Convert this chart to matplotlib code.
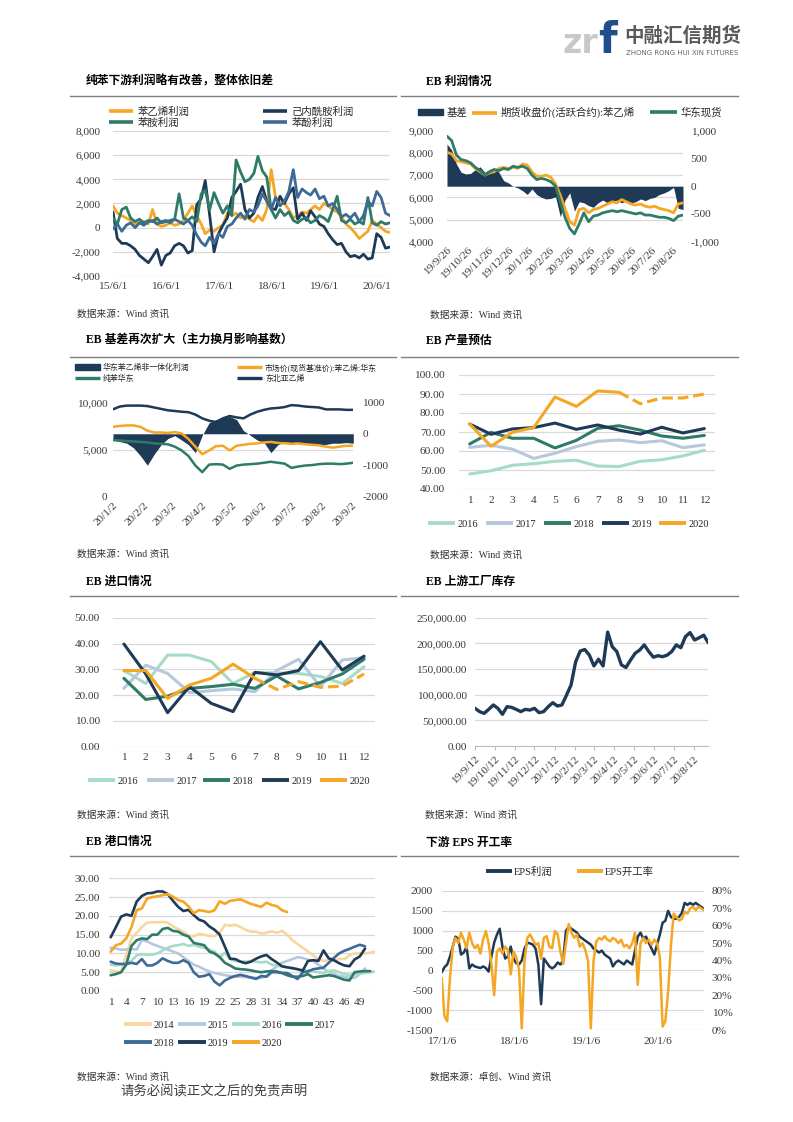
import numpy as np
import pandas as pd
import matplotlib
matplotlib.use('Agg')
import matplotlib.pyplot as plt
import matplotlib.dates as mdates
from matplotlib.lines import Line2D
from matplotlib.patches import Patch
from matplotlib.ticker import FuncFormatter

# ====================== DATA ======================
# Panel 1: 纯苯下游利润 (monthly, from 2015-06)
p1_start = '2015-06-01'
p1_labels = ['苯乙烯利润', '己内酰胺利润', '苯胺利润', '苯酚利润']
p1_sm = [1800, 1200, 1000, 800, 600, 300, 400, 500, 300, 1500,
         300, 100, 200, 400, 200, 300, 600, 1200, 1800, 1000,
         300, -500, -200, -300, 0, 200, 1200, 1000, 1200, 800,
         1000, 700, 500, 1000, 600, 1500, 4800, 2500, 2200, 2000,
         1500, 800, 1000, 1300, 1200, 1500, 1800, 1500, 2000, 1800,
         1500, 1300, 900, 300, 0, -400, -900, -600, -300, 600,
         300, 0, -300, -400]
p1_cpl = [1300, -900, -1300, -1300, -1500, -1800, -2300, -2600, -2900, -2400,
          -1800, -3100, -2300, -2100, -1500, -1300, -1500, -2100, -1900, 1900,
          2400, 3900, 1000, -2000, -500, 200, 800, 2500, 3000, 3600,
          1500, 800, 1200, 2500, 3400, 2200, 1600, 1500, 2600, 2000,
          2800, 3300, 700, 1200, 600, 1400, 900, 300, 100, -500,
          -1000, -1400, -1300, -2000, -2400, -2300, -2500, -2200, -2600, -2500,
          -500, -800, -1700, -1600]
p1_aniline = [800, 300, 1500, 1700, 800, 500, 700, 400, 600, 500,
              800, 400, 500, 600, 700, 2800, 800, 600, 900, 500,
              2800, 3100, 1500, 2900, 2000, 1200, 1800, 1000, 5600, 4600,
              3800, 4000, 4500, 5900, 4700, 4200, 1500, 800, 1500, 1000,
              1300, 600, 400, 700, 800, 400, 600, 1000, 800, 500,
              1500, 2600, 600, 400, 700, 300, 500, 300, 2500, 400,
              200, 500, 300, 400]
p1_phenol = [-100, 300, -300, 200, 400, 0, 400, 200, 500, 600,
             300, 500, 600, 400, 700, 500, 300, 600, 200, -600,
             -1200, -1500, -800, -1300, -500, -800, 100, 300, 800, 1200,
             700, 1500, 1300, 1800, 2800, 2200, 1500, 2500, 1800, 2200,
             3000, 4800, 2500, 3200, 2900, 2700, 3200, 2400, 2600, 1800,
             2000, 1500, 900, 1100, 800, 1200, 500, 1000, 2200, 1800,
             3000, 2500, 1200, 1000]

# Panel 2: EB 利润情况 (weekly, from 2019-09-26)
p2_start = '2019-09-26'
p2_labels = ['基差', '期货收盘价(活跃合约):苯乙烯', '华东现货']
p2_basis = [760, 650, 400, 250, 220, 230, 300, 350, 250, 300,
            330, 250, 100, 60, 0, -30, -80, -150, -50, -150,
            -200, -230, -220, -190, -550, -250, -120, -450, -280, -300,
            -350, -380, -300, -250, -300, -280, -250, -300, -260, -300,
            -280, -230, -260, -220, -200, -150, -120, -80, -20, -400,
            -420]
p2_fut = [8030, 7950, 7650, 7600, 7550, 7500, 7300, 7150, 7000, 7100,
          7150, 7300, 7350, 7300, 7350, 7300, 7500, 7450, 7150, 6950,
          6950, 7000, 6900, 6600, 6100, 5500, 4900, 4750, 5450, 5500,
          5300, 5450, 5500, 5600, 5700, 5800, 5750, 5900, 5800, 5700,
          5650, 5700, 5600, 5550, 5600, 5500, 5450, 5400, 5300, 5700,
          5750]
p2_spot = [8750, 8550, 7900, 7700, 7650, 7550, 7350, 7200, 7000, 7150,
           7250, 7200, 7300, 7250, 7400, 7350, 7400, 7300, 7000, 6800,
           6850, 6800, 6700, 6500, 5800, 5100, 4600, 4350, 4800, 5300,
           4900, 5150, 5200, 5300, 5350, 5400, 5350, 5400, 5350, 5300,
           5250, 5300, 5200, 5200, 5150, 5100, 5100, 5050, 4950, 5150,
           5200]

# Panel 3: EB 基差 (weekly, from 2020-01-02)
p3_start = '2020-01-02'
p3_labels = ['华东苯乙烯非一体化利润', '市场价(现货基准价):苯乙烯:华东', '纯苯华东', '东北亚乙烯']
p3_margin = [-200, -250, -300, -450, -700, -1000, -650, -350, -150, -60,
             -200, -350, -600, -50, 350, 450, 520, 550, 450, 100,
             -50, -200, -280, -600, -350, -260, -280, -320, -300, -330,
             -350, -340, -300, -300, -280, -300]
p3_sm = [7400, 7500, 7550, 7550, 7400, 7000, 6800, 6800, 6750, 6850,
         6700, 6100, 5300, 4500, 4900, 5350, 5400, 4900, 5400, 5500,
         5600, 5650, 5750, 5800, 5700, 5650, 5600, 5650, 5550, 5500,
         5450, 5300, 5200, 5300, 5400, 5400]
p3_bz = [6000, 5950, 5900, 5850, 5800, 5750, 5650, 5600, 5550, 5300,
         4900, 4300, 3300, 2600, 3400, 3450, 3400, 2950, 3300, 3400,
         3450, 3500, 3600, 3700, 3600, 3500, 3050, 3200, 3300, 3350,
         3450, 3500, 3500, 3450, 3500, 3600]
p3_eth = [9260, 9550, 9650, 9650, 9650, 9600, 9450, 9300, 9150, 9080,
          9000, 8950, 8700, 8300, 8050, 7900, 8300, 8550, 8400, 8300,
          8700, 9000, 9200, 9350, 9400, 9500, 9700, 9650, 9550, 9500,
          9450, 9250, 9250, 9250, 9200, 9200]

# Panel 4: EB 产量预估 (months 1-12)
months = list(range(1, 13))
year_labels = ['2016', '2017', '2018', '2019', '2020']
p4_2016 = [47.9, 49.6, 52.5, 53.3, 54.6, 55.1, 52.1, 51.8, 54.6, 55.4, 57.4, 60.4]
p4_2017 = [61.9, 63.0, 61.0, 56.1, 58.8, 62.3, 65.1, 65.8, 64.4, 65.4, 61.8, 63.2]
p4_2018 = [63.7, 69.8, 66.7, 66.7, 61.6, 65.6, 71.9, 73.3, 71.0, 67.9, 66.7, 68.2]
p4_2019 = [74.2, 68.8, 71.6, 72.3, 74.7, 71.4, 73.7, 71.0, 68.9, 72.5, 69.5, 71.8]
p4_2020 = [74.2, 62.5, 69.8, 72.3, 88.4, 83.5, 91.6, 90.9]
p4_2020_fc_months = [8, 9, 10, 11, 12]
p4_2020_fc = [90.9, 84.9, 87.9, 87.9, 90.0]

# Panel 5: EB 进口情况 (months 1-12)
p5_2016 = [29.5, 24.5, 35.5, 35.5, 33.0, 24.5, 28.8, 28.6, 28.4, 27.2, 24.5, 31.0]
p5_2017 = [22.6, 31.6, 28.4, 21.0, 21.7, 22.4, 21.3, 29.5, 33.9, 23.3, 33.6, 34.5]
p5_2018 = [26.5, 18.3, 19.6, 22.6, 23.3, 24.2, 22.6, 27.4, 22.4, 24.9, 28.2, 33.9]
p5_2019 = [39.8, 28.2, 13.2, 23.3, 16.8, 13.6, 28.8, 27.8, 29.5, 40.7, 29.7, 35.1]
p5_2020 = [29.5, 29.5, 18.7, 23.9, 26.5, 32.0, 26.5]
p5_2020_fc_months = [7, 8, 9, 10, 11, 12]
p5_2020_fc = [26.5, 22.2, 25.2, 23.0, 23.5, 28.2]

# Panel 6: EB 上游工厂库存 (weekly, from 2019-09-12)
p6_start = '2019-09-12'
p6_inv = [73400, 67000, 63600, 71400, 80000, 73400, 61700, 76600, 75300, 71400,
          67000, 71400, 70000, 73400, 65000, 67000, 76600, 84400, 78000, 80000,
          99000, 119000, 164000, 185000, 188000, 177000, 156000, 169000, 156000, 222000,
          193500, 184000, 158000, 153000, 167500, 180500, 187000, 197000, 184000, 173000,
          176000, 174000, 177000, 184000, 197000, 191500, 213000, 221000, 206500, 211000,
          216000, 201000]

# Panel 7: EB 港口情况 (week number)
p7_labels = ['2014', '2015', '2016', '2017', '2018', '2019', '2020']
p7_2014 = [5.5, 5.2, 5.0, 9.5, 14.0, 15.5, 17.0, 18.2, 18.3, 18.3,
           18.4, 18.2, 17.2, 16.5, 15.8, 14.8, 14.5, 15.2, 15.0, 14.7,
           14.6, 15.5, 17.6, 17.4, 17.6, 17.0, 16.3, 15.8, 15.8, 15.3,
           15.5, 15.9, 15.5, 16.0, 15.0, 13.5, 12.5, 11.5, 10.5, 9.5,
           8.5, 8.0, 8.2, 8.0, 8.5, 8.5, 9.5, 10.0, 10.0, 10.0,
           10.2, 10.5]
p7_2015 = [11.5, 11.3, 11.0, 11.0, 11.2, 11.0, 13.5, 13.2, 12.5, 12.0,
           11.5, 11.0, 10.5, 10.0, 9.0, 8.0, 7.0, 6.5, 5.8, 5.2,
           4.8, 4.5, 4.2, 4.0, 3.8, 3.8, 3.7, 3.6, 3.5, 3.5,
           4.0, 5.5, 6.5, 7.5, 8.0, 8.5, 9.0, 8.8, 8.3, 8.0,
           7.0, 6.0, 5.0, 4.5, 4.0, 3.8, 3.5, 3.5, 4.5, 6.0]
p7_2016 = [7.0, 6.8, 7.0, 7.2, 8.0, 9.5, 9.8, 9.6, 9.7, 10.0,
           10.8, 11.5, 12.0, 12.2, 12.5, 12.0, 12.3, 11.8, 11.5, 11.0,
           10.5, 9.0, 10.2, 8.5, 8.0, 7.8, 7.8, 8.0, 7.8, 7.6,
           7.8, 7.0, 6.8, 6.5, 6.3, 6.0, 5.8, 5.6, 5.5, 5.2,
           5.0, 4.8, 5.3, 5.5, 5.0, 4.5, 4.3, 4.5, 4.6, 4.8,
           5.0, 5.2]
p7_2017 = [4.2, 4.5, 5.0, 7.0, 12.0, 13.5, 14.0, 13.8, 15.0, 15.0,
           16.5, 16.8, 16.0, 15.8, 15.0, 14.5, 12.8, 12.5, 12.2, 10.5,
           10.0, 9.0, 7.5, 6.8, 6.0, 5.8, 5.7, 5.5, 5.2, 5.0,
           5.2, 5.3, 5.2, 4.8, 4.2, 3.8, 3.8, 4.0, 4.5, 3.6,
           3.8, 4.0, 4.2, 4.0, 3.5, 3.0, 2.8, 5.0, 5.2, 5.3,
           5.3]
p7_2018 = [7.8, 7.3, 7.2, 7.2, 7.5, 7.2, 8.5, 6.8, 6.8, 7.5,
           8.7, 8.0, 7.5, 7.5, 8.2, 7.5, 5.0, 3.8, 4.0, 4.5,
           2.5, 1.5, 2.8, 3.5, 4.0, 4.3, 4.0, 3.6, 3.2, 4.0,
           3.8, 5.0, 5.0, 4.8, 4.8, 4.0, 3.2, 5.0, 5.2, 5.8,
           6.0, 6.2, 7.5, 8.8, 10.0, 10.7, 11.2, 11.8, 12.3, 11.9]
p7_2019 = [14.3, 17.0, 19.8, 20.4, 20.0, 23.8, 25.3, 26.0, 26.1, 26.5,
           26.5, 25.8, 24.0, 22.4, 21.3, 21.6, 20.2, 19.0, 18.5, 17.2,
           16.3, 15.0, 11.8, 8.6, 8.5, 7.8, 7.4, 7.8, 8.6, 9.2,
           9.6, 8.5, 7.6, 6.6, 6.3, 6.1, 5.8, 5.4, 8.0, 8.2,
           8.0, 10.8, 8.7, 8.2, 7.4, 6.8, 6.6, 8.4, 9.2, 11.3]
p7_2020 = [10.5, 12.2, 12.6, 14.0, 17.0, 21.5, 22.0, 24.6, 25.0, 25.2,
           25.5, 25.8, 25.1, 24.2, 23.8, 22.5, 20.7, 21.5, 21.3, 21.0,
           21.5, 23.9, 23.2, 24.0, 24.2, 24.4, 23.8, 23.2, 22.8, 22.4,
           23.5, 22.9, 22.6, 21.5, 21.0]

# Panel 8: 下游EPS开工率 (bi-weekly, from 2017-01-06)
p8_start = '2017-01-06'
p8_labels = ['EPS利润', 'EPS开工率']
p8_profit = [-50, 80, 150, 350, 600, 850, 800, 400, 450, 600,
             50, 150, 100, 80, 60, 100, 60, -30, 350, 700,
             900, 1050, 600, 300, 350, 600, 300, 180, 150, 250,
             550, 700, 680, 650, 550, 150, -850, 300, 200, 100,
             50, 100, 200, 150, 250, 1000, 1100, 1050, 1000, 950,
             850, 800, 750, 700, 650, 550, 500, 450, 500, 400,
             350, 300, 100, 200, 250, 200, 150, 250, 200, 150,
             500, 850, 950, 800, 850, 700, 550, 400, 650, 900,
             1200, 1250, 1500, 1350, 1300, 1300, 1350, 1450, 1700, 1650,
             1700, 1650, 1700, 1650, 1600, 1550]
p8_rate = [30, 8, 5, 30, 48, 53, 50, 56, 52, 47,
           56, 50, 47, 49, 44, 52, 57, 50, 38, 20,
           45, 47, 44, 48, 46, 32, 45, 42, 35, 1,
           40, 53, 55, 52, 49, 50, 41, 53, 54, 48,
           47, 57, 55, 45, 38, 50, 61, 56, 53, 55,
           48, 50, 46, 40, 1, 40, 51, 53, 52, 54,
           52, 51, 53, 52, 50, 52, 48, 49, 47, 50,
           56, 26, 50, 53, 50, 52, 49, 52, 50, 42,
           2, 5, 22, 48, 67, 65, 63, 64, 68, 67,
           70, 71, 69, 71, 70, 69]

# ====================== STYLE ======================
W, H = 793, 1122
plt.rcParams['font.family'] = ['Liberation Serif', 'Noto Sans CJK SC', 'DejaVu Sans']
plt.rcParams['axes.unicode_minus'] = False

ORANGE = '#F5A623'
NAVY = '#1F3A56'
GREEN = '#2E7B68'
STEEL = '#3D6B96'
LTEAL = '#A6DBC8'
LBLUE = '#B5C8DD'
PEACH = '#F9D69E'
GRID = '#D9D9D9'
TXT = '#3A3A3A'
FS = 7.5        # legend font
TFS = 8.2       # tick font

fig = plt.figure(figsize=(W / 100, H / 100), dpi=100)


def rect(x0, y0, x1, y1):
    return [x0 / W, 1 - y1 / H, (x1 - x0) / W, (y1 - y0) / H]


def fx(x):
    return x / W


def fy(y):
    return 1 - y / H


def style(ax, ypad=7, xpad=4.5):
    for s in ax.spines.values():
        s.set_visible(False)
    ax.tick_params(axis='both', length=0, labelsize=TFS, labelcolor=TXT)
    ax.tick_params(axis='y', pad=ypad)
    ax.tick_params(axis='x', pad=xpad)


def date_fmt(x, pos=None):
    d = mdates.num2date(x)
    return f"{d.year % 100}/{d.month}/{d.day}"


def rotate_labels(ax):
    for lbl in ax.get_xticklabels():
        lbl.set_rotation(45)
        lbl.set_ha('right')
        lbl.set_va('top')
        lbl.set_rotation_mode('anchor')


comma = FuncFormatter(lambda v, p: f"{v:,.0f}")
plain = FuncFormatter(lambda v, p: f"{v:.0f}")
two = FuncFormatter(lambda v, p: f"{v:.2f}")


def leg(handle, label, x, y, fs=FS, hl_px=25, pad_px=4, hh=0.7):
    em = fs * 100 / 72
    fig.legend([handle], [label], loc='center left',
               bbox_to_anchor=(fx(x), fy(y)), bbox_transform=fig.transFigure,
               frameon=False, fontsize=fs, handlelength=hl_px / em,
               handletextpad=pad_px / em, borderpad=0, borderaxespad=0,
               handleheight=hh, labelcolor='#262626')


def lh(color, lw=2.6, ls='-'):
    return Line2D([], [], color=color, lw=lw, ls=ls, solid_capstyle='butt')


def title(x, y, s):
    fig.text(fx(x), fy(y), s, fontsize=8.5, fontweight='bold', va='center', ha='left', color='black')


def source(x, y, s='数据来源：Wind 资讯'):
    fig.text(fx(x), fy(y), s, fontsize=7, va='center', ha='left', color='#333333')


def sep(x0, x1, y):
    fig.add_artist(Line2D([fx(x0), fx(x1)], [fy(y), fy(y)], transform=fig.transFigure,
                          color='#7F7F7F', lw=1.0))


LW = dict(solid_capstyle='round', solid_joinstyle='round')

# ====================== HEADER ======================
fig.text(fx(562), fy(53), 'zr', fontsize=24, color='#C8C8C8', family='DejaVu Sans',
         fontweight='bold', va='baseline', ha='left')
fig.text(fx(598), fy(53), 'f', fontsize=31, color='#1F4E8C', family='DejaVu Sans',
         fontweight='bold', va='baseline', ha='left')
fig.text(fx(624), fy(36), '中融汇信期货', fontsize=14, color='#595959', family='Noto Sans CJK SC',
         fontweight='bold', va='center', ha='left')
fig.text(fx(626), fy(53), 'ZHONG RONG HUI XIN FUTURES', fontsize=5, color='#666666',
         family='DejaVu Sans', va='center', ha='left')

for yy in (96, 356.7, 596, 856):
    sep(70, 396, yy)
    sep(401, 738, yy)

# ====================== PANEL 1 ======================
title(86, 81.7, '纯苯下游利润略有改善，整体依旧差')
ax1 = fig.add_axes(rect(113, 131, 390, 276))
style(ax1, ypad=9, xpad=4.5)
ax1.yaxis.grid(True, color=GRID, lw=0.9)
ax1.set_axisbelow(True)
d1 = pd.date_range(p1_start, periods=len(p1_sm), freq='MS')
ax1.plot(d1, p1_sm, color=ORANGE, lw=2.0, **LW)
ax1.plot(d1, p1_cpl, color=NAVY, lw=2.0, **LW)
ax1.plot(d1, p1_aniline, color=GREEN, lw=2.0, **LW)
ax1.plot(d1, p1_phenol, color=STEEL, lw=2.0, **LW)
ax1.set_ylim(-4000, 8000)
ax1.set_yticks(range(-4000, 8001, 2000))
ax1.yaxis.set_major_formatter(comma)
ax1.set_xlim(d1[0], d1[-1])
ax1.set_xticks(pd.date_range(p1_start, periods=6, freq=pd.DateOffset(years=1)))
ax1.xaxis.set_major_formatter(FuncFormatter(date_fmt))
leg(lh(ORANGE), p1_labels[0], 109, 111.7, hl_px=24, pad_px=5)
leg(lh(NAVY), p1_labels[1], 263, 111.7, hl_px=24, pad_px=5)
leg(lh(GREEN), p1_labels[2], 109, 122.7, hl_px=24, pad_px=5)
leg(lh(STEEL), p1_labels[3], 263, 122.7, hl_px=24, pad_px=5)
source(77, 314)

# ====================== PANEL 2 ======================
title(426, 81.7, 'EB 利润情况')
ax2 = fig.add_axes(rect(447, 130.7, 683, 241.7))
ax2r = ax2.twinx()
ax2.set_zorder(ax2r.get_zorder() + 1)
ax2.patch.set_visible(False)
style(ax2, ypad=9.5, xpad=3)
style(ax2r, ypad=5.5)
d2 = pd.date_range(p2_start, periods=len(p2_fut), freq='7D')
l_ylim2 = (4000, 9000)
r_ylim2 = (-1000, 1000)
ax2r.fill_between(d2, p2_basis, 0, color=NAVY, lw=0)
ax2.plot(d2, p2_fut, color=ORANGE, lw=2.0, **LW)
ax2.plot(d2, p2_spot, color=GREEN, lw=2.0, **LW)
ax2.set_ylim(*l_ylim2)
ax2r.set_ylim(*r_ylim2)
lt2 = np.arange(4000, 9001, 1000)
ax2.set_yticks(lt2)
ax2.yaxis.set_major_formatter(comma)
ax2r.set_yticks(np.arange(-1000, 1001, 500))
ax2r.yaxis.set_major_formatter(comma)
ax2r.set_yticks(np.interp(lt2, l_ylim2, r_ylim2), minor=True)
ax2r.tick_params(which='minor', length=0)
ax2r.yaxis.grid(True, which='minor', color=GRID, lw=0.9)
ax2r.set_axisbelow(True)
ax2.set_xlim(d2[0], d2[-1])
ax2.set_xticks(pd.date_range(p2_start, periods=12, freq=pd.DateOffset(months=1)))
ax2.xaxis.set_major_formatter(FuncFormatter(date_fmt))
rotate_labels(ax2)
leg(Patch(color=NAVY), p2_labels[0], 418, 112.7, hl_px=25, pad_px=4, hh=0.5)
leg(lh(ORANGE), p2_labels[1], 472, 112.7, hl_px=25, pad_px=4)
leg(lh(GREEN), p2_labels[2], 650, 112.7, hl_px=27, pad_px=4)
source(430, 315)

# ====================== PANEL 3 ======================
title(86, 340, 'EB 基差再次扩大（主力换月影响基数）')
ax3 = fig.add_axes(rect(113, 402.3, 353.3, 496.7))
ax3r = ax3.twinx()
ax3.set_zorder(ax3r.get_zorder() + 1)
ax3.patch.set_visible(False)
style(ax3, ypad=4, xpad=3)
style(ax3r, ypad=6.5)
d3 = pd.date_range(p3_start, periods=len(p3_sm), freq='7D')
l_ylim3 = (0, 10000)
r_ylim3 = (-2000, 1000)
ax3r.fill_between(d3, p3_margin, 0, color=NAVY, lw=0)
ax3.plot(d3, p3_sm, color=ORANGE, lw=1.8, **LW)
ax3.plot(d3, p3_bz, color=GREEN, lw=1.8, **LW)
ax3.plot(d3, p3_eth, color=NAVY, lw=1.8, **LW)
ax3.set_ylim(*l_ylim3)
ax3r.set_ylim(*r_ylim3)
lt3 = np.array([0, 5000, 10000])
ax3.set_yticks(lt3)
ax3.yaxis.set_major_formatter(comma)
ax3r.set_yticks([-2000, -1000, 0, 1000])
ax3r.yaxis.set_major_formatter(plain)
ax3r.set_yticks(np.interp(lt3, l_ylim3, r_ylim3), minor=True)
ax3r.tick_params(which='minor', length=0)
ax3r.yaxis.grid(True, which='minor', color=GRID, lw=0.9)
ax3r.set_axisbelow(True)
ax3.set_xlim(d3[0], d3[-1])
ax3.set_xticks(pd.date_range(p3_start, periods=9, freq=pd.DateOffset(months=1)))
ax3.xaxis.set_major_formatter(FuncFormatter(date_fmt))
rotate_labels(ax3)
fs3 = 5.7
leg(Patch(color=NAVY), p3_labels[0], 75, 367.7, fs=fs3, hl_px=25, pad_px=3, hh=0.6)
leg(lh(ORANGE, 2.4), p3_labels[1], 237, 367.7, fs=fs3, hl_px=25, pad_px=3)
leg(lh(GREEN, 2.4), p3_labels[2], 75, 379, fs=fs3, hl_px=25, pad_px=3)
leg(lh(NAVY, 2.4), p3_labels[3], 237, 379, fs=fs3, hl_px=25, pad_px=3)
source(77, 554.3)

# ====================== PANEL 4 ======================
title(426, 341, 'EB 产量预估')
ax4 = fig.add_axes(rect(459, 375, 715, 489))
style(ax4, ypad=10, xpad=5)
ax4.yaxis.grid(True, color=GRID, lw=0.9)
ax4.set_axisbelow(True)
p4_series = [p4_2016, p4_2017, p4_2018, p4_2019]
p4_colors = [LTEAL, LBLUE, GREEN, NAVY]
for ser, c in zip(p4_series, p4_colors):
    ax4.plot(months, ser, color=c, lw=2.2, **LW)
ax4.plot(months[:len(p4_2020)], p4_2020, color=ORANGE, lw=2.2, **LW)
ax4.plot(p4_2020_fc_months, p4_2020_fc, color=ORANGE, lw=2.2, ls=(0, (3.5, 1.6)))
ax4.set_ylim(40, 100)
ax4.set_yticks(range(40, 101, 10))
ax4.yaxis.set_major_formatter(two)
ax4.set_xlim(0.5, 12.5)
ax4.set_xticks(months)
for i, (lab, c) in enumerate(zip(year_labels, p4_colors + [ORANGE])):
    leg(lh(c, 2.8), lab, [428, 486, 544, 601.7, 659][i], 524, hl_px=27, pad_px=3)
source(430, 555)

# ====================== PANEL 5 ======================
title(86, 581.7, 'EB 进口情况')
ax5 = fig.add_axes(rect(113, 617.7, 375, 746.7))
style(ax5, ypad=9.4, xpad=4.5)
ax5.yaxis.grid(True, color=GRID, lw=0.9)
ax5.set_axisbelow(True)
p5_series = [p5_2016, p5_2017, p5_2018, p5_2019]
for ser, c in zip(p5_series, p4_colors):
    ax5.plot(months, ser, color=c, lw=2.2, **LW)
ax5.plot(months[:len(p5_2020)], p5_2020, color=ORANGE, lw=2.2, **LW)
ax5.plot(p5_2020_fc_months, p5_2020_fc, color=ORANGE, lw=2.2, ls=(0, (3.5, 1.6)))
ax5.set_ylim(0, 50)
ax5.set_yticks(range(0, 51, 10))
ax5.yaxis.set_major_formatter(two)
ax5.set_xlim(0.5, 12.5)
ax5.set_xticks(months)
for i, (lab, c) in enumerate(zip(year_labels, p4_colors + [ORANGE])):
    leg(lh(c, 2.8), lab, [88, 146.7, 203, 262, 320][i], 781, hl_px=27, pad_px=3)
source(77, 815)

# ====================== PANEL 6 ======================
title(426, 581.7, 'EB 上游工厂库存')
ax6 = fig.add_axes(rect(475, 617.7, 708.3, 746))
style(ax6, ypad=6, xpad=3)
ax6.spines['bottom'].set_visible(True)
ax6.spines['bottom'].set_color('#BFBFBF')
ax6.tick_params(axis='x', length=3, color='#BFBFBF', direction='out')
ax6.yaxis.grid(True, color=GRID, lw=0.9)
ax6.set_axisbelow(True)
d6 = pd.date_range(p6_start, periods=len(p6_inv), freq='7D')
ax6.plot(d6, p6_inv, color=NAVY, lw=2.4, **LW)
ax6.set_ylim(0, 250000)
ax6.set_yticks(range(0, 250001, 50000))
ax6.yaxis.set_major_formatter(FuncFormatter(lambda v, p: f"{v:,.2f}"))
ax6.set_xlim(d6[0], d6[-1])
ax6.set_xticks(pd.date_range(p6_start, periods=12, freq=pd.DateOffset(months=1)))
ax6.xaxis.set_major_formatter(FuncFormatter(date_fmt))
rotate_labels(ax6)
source(425, 815)

# ====================== PANEL 7 ======================
title(86, 841.7, 'EB 港口情况')
ax7 = fig.add_axes(rect(109.3, 878.3, 375.4, 991))
style(ax7, ypad=6.7, xpad=5)
ax7.yaxis.grid(True, color=GRID, lw=0.9)
ax7.set_axisbelow(True)
p7_series = [p7_2014, p7_2015, p7_2016, p7_2017, p7_2018, p7_2019, p7_2020]
p7_colors = [PEACH, LBLUE, LTEAL, GREEN, STEEL, NAVY, ORANGE]
for ser, c in zip(p7_series, p7_colors):
    ax7.plot(np.arange(1, len(ser) + 1), ser, color=c, lw=1.9, **LW)
ax7.set_ylim(0, 30)
ax7.set_yticks(range(0, 31, 5))
ax7.yaxis.set_major_formatter(two)
ax7.set_xlim(0.73, 52)
ax7.set_xticks(range(1, 50, 3))
p7_pos = [(124, 1025), (178, 1025), (231.7, 1025), (285, 1025),
          (124, 1043.3), (178, 1043.3), (231.7, 1043.3)]
for (x, y), lab, c in zip(p7_pos, p7_labels, p7_colors):
    leg(lh(c, 2.8), lab, x, y, hl_px=28, pad_px=2)
source(77, 1076.7)

# ====================== PANEL 8 ======================
title(426, 842.7, '下游 EPS 开工率')
ax8 = fig.add_axes(rect(441.7, 891, 704, 1030))
ax8r = ax8.twinx()
style(ax8, ypad=6.3, xpad=5)
style(ax8r, ypad=5.5)
ax8.yaxis.grid(True, color=GRID, lw=0.9)
ax8.set_axisbelow(True)
d8 = pd.date_range(p8_start, periods=len(p8_profit), freq='14D')
ax8.plot(d8, p8_profit, color=NAVY, lw=1.8, **LW)
ax8r.plot(d8, p8_rate, color=ORANGE, lw=1.8, **LW)
ax8.set_ylim(-1500, 2000)
ax8.set_yticks(range(-1500, 2001, 500))
ax8.yaxis.set_major_formatter(plain)
ax8r.set_ylim(0, 80)
ax8r.set_yticks(range(0, 81, 10))
ax8r.yaxis.set_major_formatter(FuncFormatter(lambda v, p: f"{v:.0f}%"))
ax8.set_xlim(d8[0], d8[-1])
ax8.set_xticks(pd.date_range(p8_start, periods=4, freq=pd.DateOffset(years=1)))
ax8.xaxis.set_major_formatter(FuncFormatter(date_fmt))
leg(lh(NAVY, 2.8), p8_labels[0], 486, 871.7, hl_px=26, pad_px=2)
leg(lh(ORANGE, 2.8), p8_labels[1], 576.7, 871.7, hl_px=26, pad_px=2)
source(430, 1076.7, '数据来源：卓创、Wind 资讯')

# ====================== FOOTER ======================
fig.text(fx(120), fy(1092), '请务必阅读正文之后的免责声明', fontsize=9.6, color='#404040',
         va='center', ha='left')

fig.savefig('out.png', dpi=100, facecolor='white')
